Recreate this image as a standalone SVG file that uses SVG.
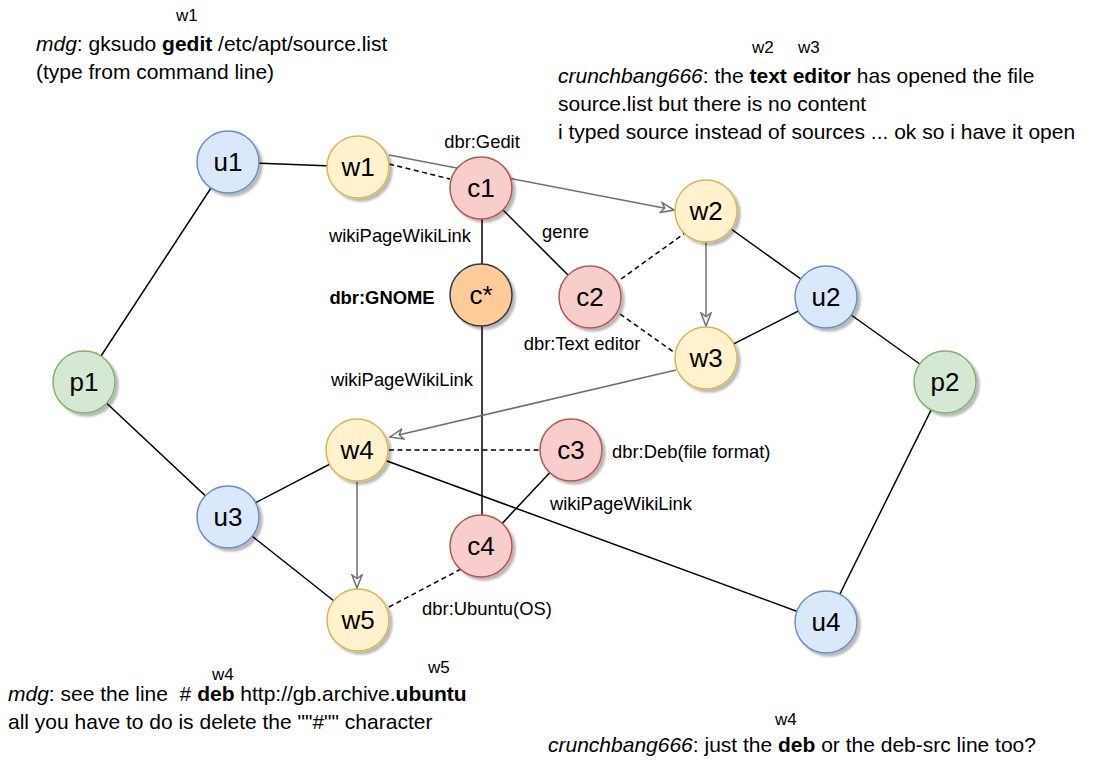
<svg xmlns="http://www.w3.org/2000/svg" width="1099" height="767" viewBox="0 0 1099 767">
<style>
text{font-family:"Liberation Sans",Arial,Helvetica,sans-serif;fill:#000;white-space:pre}
.nl{font-size:26px;text-anchor:middle}
.el{font-size:18.4px}
.tt{font-size:21px}
.sm{font-size:17px}
.n{stroke-width:1.5;filter:url(#sh)}
.y{fill:#fff2cc;stroke:#d6b656}
.r{fill:#f8cecc;stroke:#b85450}
.b{fill:#dae8fc;stroke:#6c8ebf}
.g{fill:#d5e8d4;stroke:#82b366}
.o{fill:#ffcc99;stroke:#36393d}
.s{stroke:#000;stroke-width:1.5;fill:none}
.d{stroke:#000;stroke-width:1.5;fill:none;stroke-dasharray:5 3.5}
.a{stroke:#707070;stroke-width:1.5;fill:none;marker-end:url(#arr)}
</style>
<defs>
<filter id="sh" x="-30%" y="-30%" width="170%" height="170%">
<feDropShadow dx="3" dy="3" stdDeviation="1.2" flood-color="#000" flood-opacity="0.28"/>
</filter>
<marker id="arr" viewBox="0 0 15 12" refX="14" refY="6" markerWidth="15" markerHeight="12" markerUnits="userSpaceOnUse" orient="auto">
<path d="M1,1 L14,6 L1,11 L4.5,6 Z" fill="#fff" stroke="#707070" stroke-width="1.5" stroke-linejoin="miter"/>
</marker>
</defs>
<rect width="1099" height="767" fill="#fff"/>

<g id="connectors">
<line class="s" x1="228" y1="162" x2="358" y2="167"/>
<line class="s" x1="228" y1="162" x2="84" y2="382"/>
<line class="s" x1="84" y1="382" x2="228" y2="517"/>
<line class="s" x1="228" y1="517" x2="357" y2="450"/>
<line class="s" x1="228" y1="517" x2="358" y2="620"/>
<line class="s" x1="482" y1="188" x2="482" y2="295"/>
<line class="s" x1="482" y1="295" x2="482" y2="546"/>
<line class="s" x1="481" y1="188" x2="590" y2="297"/>
<line class="s" x1="706" y1="211" x2="826" y2="297"/>
<line class="s" x1="706" y1="358" x2="826" y2="297"/>
<line class="s" x1="826" y1="297" x2="945" y2="382"/>
<line class="s" x1="945" y1="382" x2="826" y2="622"/>
<line class="s" x1="357" y1="450" x2="826" y2="622"/>
<line class="s" x1="571" y1="450" x2="481" y2="546"/>
<line class="d" x1="389" y1="164" x2="450" y2="179"/>
<line class="d" x1="621" y1="279" x2="685" y2="233"/>
<line class="d" x1="620" y1="314" x2="675" y2="353"/>
<line class="d" x1="389" y1="450" x2="540" y2="450"/>
<line class="d" x1="461" y1="569" x2="389" y2="607"/>
<line class="a" x1="389" y1="155" x2="674" y2="210"/>
<line class="a" x1="706" y1="242" x2="706" y2="326"/>
<line class="a" x1="676" y1="370" x2="390" y2="437"/>
<line class="a" x1="357" y1="481" x2="357" y2="588"/>
<text class="el" x="482" y="148" text-anchor="middle">dbr:Gedit</text>
<text class="el" x="400" y="242" text-anchor="middle">wikiPageWikiLink</text>
<text class="el" x="542" y="238">genre</text>
<text class="el" x="382" y="304" text-anchor="middle" font-weight="bold">dbr:GNOME</text>
<text class="el" x="582" y="350" text-anchor="middle">dbr:Text editor</text>
<text class="el" x="402" y="386" text-anchor="middle">wikiPageWikiLink</text>
<text class="el" x="612" y="458">dbr:Deb(file format)</text>
<text class="el" x="621" y="510" text-anchor="middle">wikiPageWikiLink</text>
<text class="el" x="487" y="615" text-anchor="middle">dbr:Ubuntu(OS)</text>
</g>

<g id="u1"><circle class="n b" cx="228" cy="162" r="31"/><text class="nl" x="228" y="171">u1</text></g>
<g id="w1"><circle class="n y" cx="358" cy="167" r="31"/><text class="nl" x="358" y="176">w1</text></g>
<g id="c1"><circle class="n r" cx="481" cy="188" r="31"/><text class="nl" x="481" y="197">c1</text></g>
<g id="w2"><circle class="n y" cx="706" cy="211" r="31"/><text class="nl" x="706" y="220">w2</text></g>
<g id="cstar"><circle class="n o" cx="481" cy="295" r="31"/><text class="nl" x="481" y="304">c*</text></g>
<g id="c2"><circle class="n r" cx="590" cy="297" r="31"/><text class="nl" x="590" y="306">c2</text></g>
<g id="u2"><circle class="n b" cx="826" cy="297" r="31"/><text class="nl" x="826" y="306">u2</text></g>
<g id="w3"><circle class="n y" cx="706" cy="358" r="31"/><text class="nl" x="706" y="367">w3</text></g>
<g id="p1"><circle class="n g" cx="84" cy="382" r="31"/><text class="nl" x="84" y="391">p1</text></g>
<g id="p2"><circle class="n g" cx="945" cy="382" r="31"/><text class="nl" x="945" y="391">p2</text></g>
<g id="w4"><circle class="n y" cx="357" cy="450" r="31"/><text class="nl" x="357" y="459">w4</text></g>
<g id="c3"><circle class="n r" cx="571" cy="450" r="31"/><text class="nl" x="571" y="459">c3</text></g>
<g id="u3"><circle class="n b" cx="228" cy="517" r="31"/><text class="nl" x="228" y="526">u3</text></g>
<g id="c4"><circle class="n r" cx="481" cy="546" r="31"/><text class="nl" x="481" y="555">c4</text></g>
<g id="w5"><circle class="n y" cx="358" cy="620" r="31"/><text class="nl" x="358" y="629">w5</text></g>
<g id="u4"><circle class="n b" cx="826" cy="622" r="31"/><text class="nl" x="826" y="631">u4</text></g>

<g id="text-top-left">
<text class="sm" x="176" y="21">w1</text>
<text class="tt" x="36" y="51"><tspan font-style="italic">mdg</tspan>: gksudo <tspan font-weight="bold">gedit</tspan> /etc/apt/source.list</text>
<text class="tt" x="36" y="79">(type from command line)</text>
</g>
<g id="text-top-right">
<text class="sm" x="752" y="53">w2</text>
<text class="sm" x="798" y="53">w3</text>
<text class="tt" x="558" y="83"><tspan font-style="italic">crunchbang666</tspan>: the <tspan font-weight="bold">text editor</tspan> has opened the file</text>
<text class="tt" x="558" y="111">source.list but there is no content</text>
<text class="tt" x="558" y="139">i typed source instead of sources ... ok so i have it open</text>
</g>
<g id="text-bottom-left">
<text class="sm" x="212" y="680">w4</text>
<text class="sm" x="428" y="673">w5</text>
<text class="tt" x="8" y="701"><tspan font-style="italic">mdg</tspan>: see the line  # <tspan font-weight="bold">deb</tspan> http://gb.archive.<tspan font-weight="bold">ubuntu</tspan></text>
<text class="tt" x="8" y="729">all you have to do is delete the ""#"" character</text>
</g>
<g id="text-bottom-right">
<text class="sm" x="775" y="725">w4</text>
<text class="tt" x="548" y="752"><tspan font-style="italic">crunchbang666</tspan>: just the <tspan font-weight="bold">deb</tspan> or the deb-src line too?</text>
</g>
</svg>
